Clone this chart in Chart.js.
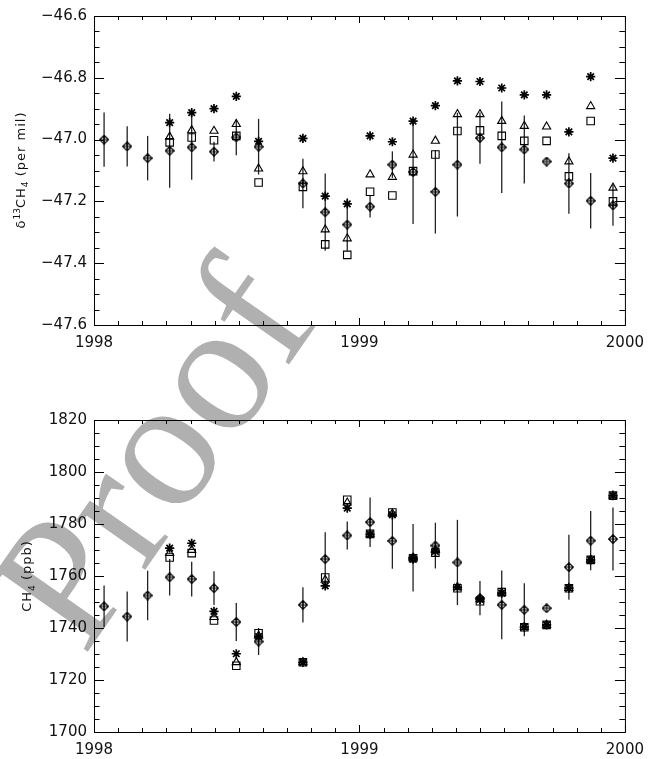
<!DOCTYPE html>
<html>
<head>
<meta charset="utf-8">
<script src="https://cdn.jsdelivr.net/npm/chart.js@4.4.1/dist/chart.umd.min.js"></script>
<style>
    body { margin: 0; background: #fff; }
    #page { position: relative; width: 653px; height: 759px; overflow: hidden; }
    #watermark {
        position: absolute; left: 84px; top: 502px;
        font-family: "Liberation Serif", serif; font-size: 185px; line-height: 1;
        color: #b0b0b0; white-space: nowrap;
        transform-origin: 0 155px; transform: rotate(-55deg);
    }
    .panel { position: absolute; left: 0; }
    #top-panel { top: 0; }
    #bottom-panel { top: 380px; }
    .ytitle {
        position: absolute; white-space: nowrap;
        font-family: "DejaVu Sans", sans-serif; font-size: 13px; letter-spacing: 1px; color: #111;
        transform: translate(-50%, -50%) rotate(-90deg);
    }
    .ytitle sup, .ytitle sub { font-size: 9px; letter-spacing: 0; }
</style>
</head>
<body>
<div id="page">
    <div id="watermark">Proof</div>
    <canvas id="top-panel" class="panel" width="653" height="380"></canvas>
    <canvas id="bottom-panel" class="panel" width="653" height="379"></canvas>
    <div class="ytitle" style="left:21px; top:170px;">&delta;<sup>13</sup>CH<sub>4</sub> (per mil)</div>
    <div class="ytitle" style="left:28px; top:576px;">CH<sub>4</sub> (ppb)</div>
</div>
<script>
"use strict";

// sampling dates, decimal years
const months = [1998.038, 1998.125, 1998.202, 1998.285, 1998.368, 1998.452, 1998.536, 1998.620,
    1998.787, 1998.871, 1998.954, 1999.040, 1999.124, 1999.202, 1999.286, 1999.369, 1999.454,
    1999.536, 1999.621, 1999.705, 1999.789, 1999.871, 1999.955];
const yearTicks = [1998, 1999, 2000];

// delta 13C (per mil)
const d13Obs = [-47.000, -47.022, -47.060, -47.036, -47.025, -47.039, -46.993, -47.023, -47.142, -47.235,
    -47.275, -47.217, -47.081, -47.105, -47.169, -47.081, -46.995, -47.025, -47.032, -47.071, -47.142,
    -47.198, -47.213];
const d13Err = [0.088, 0.065, 0.072, 0.120, 0.105, 0.032, 0.058, 0.090, 0.080, 0.125, 0.085, 0.035, 0.043,
    0.168, 0.135, 0.168, 0.083, 0.148, 0.110, 0, 0.098, 0.090, 0.066];
const d13Square = [null, null, null, -47.009, -46.993, -47.002, -46.988, -47.139, -47.153, -47.339, -47.373,
    -47.169, -47.181, -47.102, -47.048, -46.972, -46.970, -46.988, -47.004, -47.004, -47.119, -46.940, -47.200];
const d13Triangle = [null, null, null, -46.991, -46.970, -46.972, -46.950, -47.094, -47.103, -47.291, -47.320,
    -47.113, -47.121, -47.049, -47.004, -46.918, -46.918, -46.940, -46.956, -46.958, -47.071, -46.892, -47.156];
const d13Star = [null, null, null, -46.945, -46.913, -46.900, -46.860, -47.006, -46.996, -47.183, -47.208,
    -46.988, -47.007, -46.940, -46.890, -46.810, -46.812, -46.833, -46.855, -46.855, -46.975, -46.796, -47.060];
const d13Ticks = [-47.6, -47.4, -47.2, -47.0, -46.8, -46.6];

// CH4 (ppb)
const ch4Obs = [1748.3, 1744.4, 1752.5, 1759.5, 1758.8, 1755.3, 1742.3, 1734.8, 1748.9, 1766.5, 1775.6,
    1780.7, 1773.5, 1767.0, 1771.7, 1765.2, 1751.5, 1748.9, 1747.0, 1747.6, 1763.4, 1773.6, 1774.2];
const ch4Err = [8.0, 9.6, 9.5, 7.0, 6.7, 6.5, 7.3, 5.2, 6.8, 10.3, 5.4, 9.5, 10.7, 13.0, 8.8, 16.4, 6.6,
    13.2, 10.2, 0, 12.5, 11.4, 12.1];
const ch4Square = [null, null, null, 1767.1, 1768.8, 1742.9, 1725.5, 1738.0, 1726.8, 1759.4, 1789.3, 1776.2,
    1784.4, 1766.8, 1769.0, 1755.3, 1750.3, 1753.8, 1740.3, 1741.2, 1755.3, 1766.2, 1790.9];
const ch4Triangle = [null, null, null, 1768.8, 1770.0, 1744.2, 1726.8, 1737.0, 1726.8, 1758.5, 1788.2, 1776.0,
    1784.0, 1767.0, 1770.0, 1755.7, 1751.0, 1753.6, 1740.3, 1741.2, 1755.3, 1766.2, 1790.9];
const ch4Star = [null, null, null, 1770.7, 1772.6, 1746.4, 1730.1, 1736.7, 1726.8, 1756.2, 1786.1, 1776.0,
    1783.5, 1766.5, 1769.5, 1755.7, 1751.0, 1753.4, 1740.3, 1741.2, 1755.3, 1766.2, 1790.9];
const ch4Ticks = [1700, 1720, 1740, 1760, 1780, 1800, 1820];

const FONT = { family: "DejaVu Sans", size: 15 };

function makeDiamondPlus() {
    const c = document.createElement("canvas");
    c.width = 10;
    c.height = 10;
    const g = c.getContext("2d");
    g.strokeStyle = "#000";
    g.lineWidth = 1.2;
    g.beginPath();
    g.moveTo(5, 0.7); g.lineTo(9.3, 5); g.lineTo(5, 9.3); g.lineTo(0.7, 5);
    g.closePath();
    g.moveTo(5, 1); g.lineTo(5, 9);
    g.moveTo(1, 5); g.lineTo(9, 5);
    g.stroke();
    return c;
}

function toPoints(values) {
    return months.map((t, i) => ({ x: t, y: values[i] })).filter(p => p.y !== null);
}

function line(ctx, x1, y1, x2, y2) {
    ctx.beginPath();
    ctx.moveTo(x1, y1);
    ctx.lineTo(x2, y2);
    ctx.stroke();
}

const errorBarPlugin = {
    id: "errorBars",
    beforeDatasetsDraw(chart, args, opts) {
        const { ctx, scales: { x, y } } = chart;
        ctx.save();
        ctx.strokeStyle = "#222";
        ctx.lineWidth = 1.3;
        opts.values.forEach((v, i) => {
            const e = opts.errors[i];
            if (!e) return;
            const px = x.getPixelForValue(months[i]);
            line(ctx, px, y.getPixelForValue(v - e), px, y.getPixelForValue(v + e));
        });
        ctx.restore();
    }
};

const framePlugin = {
    id: "frame",
    afterDraw(chart, args, opts) {
        const { ctx, chartArea: a, scales: { x, y } } = chart;
        ctx.save();
        ctx.strokeStyle = "#000";
        ctx.lineWidth = 1;
        ctx.strokeRect(a.left + 0.5, a.top + 0.5, a.right - a.left, a.bottom - a.top);
        // y ticks, inward on both sides
        const nY = Math.round((opts.yMax - opts.yMin) / opts.yMinor);
        for (let k = 0; k <= nY; k++) {
            const py = Math.round(y.getPixelForValue(opts.yMin + k * opts.yMinor)) + 0.5;
            const len = k % 4 === 0 ? 10 : 5.5;
            line(ctx, a.left, py, a.left + len, py);
            line(ctx, a.right, py, a.right - len, py);
        }
        // x ticks, 11 per year
        for (let k = 0; k <= 22; k++) {
            const px = Math.round(x.getPixelForValue(1998 + k / 11)) + 0.5;
            const len = k % 11 === 0 ? 7 : 4;
            line(ctx, px, a.bottom, px, a.bottom - len);
            line(ctx, px, a.top, px, a.top + len);
        }
        ctx.restore();
    }
};

function getX(height) {
    return {
        type: "linear",
        min: 1998,
        max: 2000,
        afterFit: scale => { scale.height = height; },
        afterBuildTicks: scale => { scale.ticks = yearTicks.map(v => ({ value: v })); },
        grid: { display: false, drawTicks: false },
        border: { display: false },
        ticks: { font: FONT, color: "#111", padding: 9, autoSkip: false, maxRotation: 0,
            callback: v => String(v) }
    };
}

function getY(ticks, format) {
    return {
        min: ticks[0],
        max: ticks[ticks.length - 1],
        afterFit: scale => { scale.width = 94; },
        afterBuildTicks: scale => { scale.ticks = ticks.map(v => ({ value: v })); },
        grid: { display: false, drawTicks: false },
        border: { display: false },
        ticks: { font: FONT, color: "#111", padding: 7, callback: format }
    };
}

function buildDatasets(obs, square, triangle, star) {
    const common = { borderColor: "#000", backgroundColor: "rgba(0,0,0,0)", borderWidth: 1.1 };
    return [
        { ...common, data: toPoints(obs), pointStyle: makeDiamondPlus(), pointRadius: 5 },
        { ...common, data: toPoints(square), pointStyle: "rect", pointRadius: 5.3 },
        { ...common, data: toPoints(triangle), pointStyle: "triangle", pointRadius: 4.7 },
        { ...common, data: toPoints(star), pointStyle: "star", pointRadius: 4.6, borderWidth: 1.7 }
    ];
}

function scatterChart(location, datasets, ticks, format, padTop, xHeight, obs, err, minor) {
    const ctx = document.querySelector(location).getContext("2d");
    new Chart(ctx, {
        type: "scatter",
        data: { datasets },
        options: {
            responsive: false,
            animation: false,
            layout: { padding: { top: padTop, right: 21, left: 0, bottom: 0 } },
            scales: { x: getX(xHeight), y: getY(ticks, format) },
            plugins: {
                legend: { display: false },
                tooltip: { enabled: false },
                errorBars: { values: obs, errors: err },
                frame: { yMin: ticks[0], yMax: ticks[ticks.length - 1], yMinor: minor }
            }
        },
        plugins: [errorBarPlugin, framePlugin]
    });
}

function buildDeltaChart() {
    const format = v => (v < 0 ? "\u2212" : "") + Math.abs(v).toFixed(1);
    scatterChart("#top-panel", buildDatasets(d13Obs, d13Square, d13Triangle, d13Star),
        d13Ticks, format, 12, 55, d13Obs, d13Err, 0.05);
}

function buildMethaneChart() {
    scatterChart("#bottom-panel", buildDatasets(ch4Obs, ch4Square, ch4Triangle, ch4Star),
        ch4Ticks, v => String(v), 40, 27, ch4Obs, ch4Err, 5);
}

buildDeltaChart();
buildMethaneChart();
</script>
</body>
</html>
